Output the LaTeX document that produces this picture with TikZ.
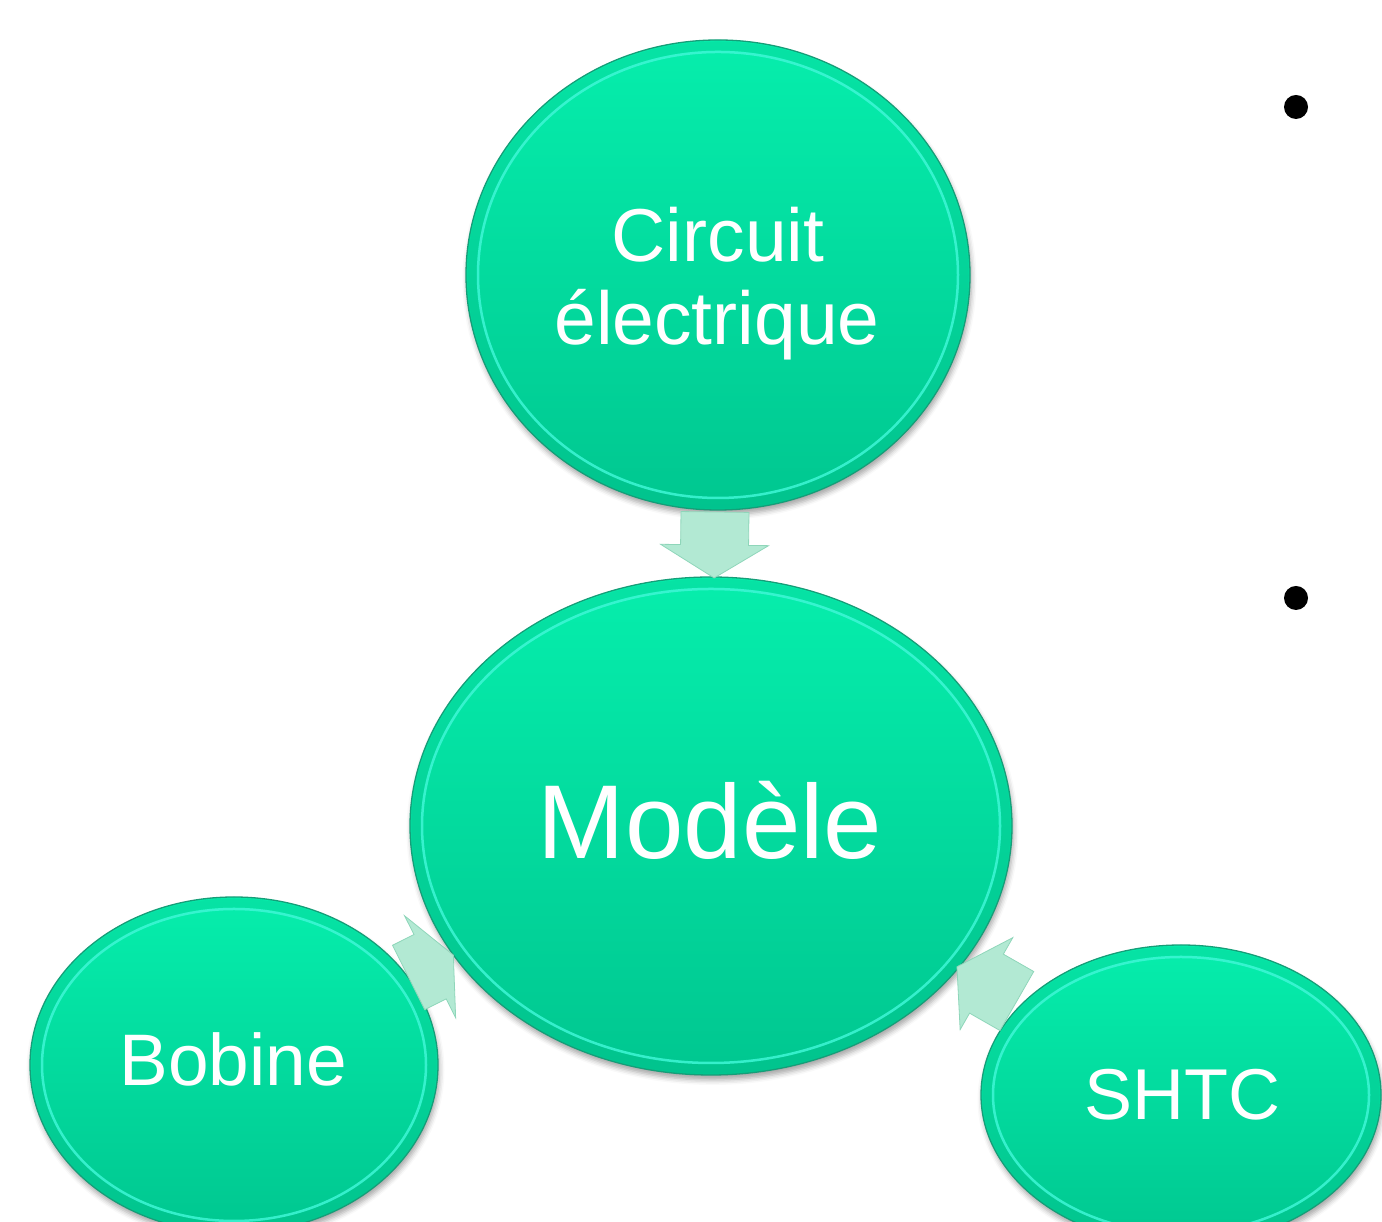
\documentclass[tikz,border=0pt]{standalone}
\usepackage{fontspec}
\setmainfont{Liberation Sans}
\usetikzlibrary{shapes.geometric,calc,shadows.blur}

\definecolor{bubbletop}{HTML}{06EEAC}
\definecolor{bubblebot}{HTML}{00C790}
\definecolor{bubbleedge}{HTML}{159E78}
\definecolor{bubblerim}{HTML}{3FF6D6}
\definecolor{bubbleband}{HTML}{0AB585}
\definecolor{flowfill}{HTML}{B2E9D3}
\definecolor{flowedge}{HTML}{8FD6BA}

\begin{document}
\begin{tikzpicture}[x=1pt,y=1pt,
  bubble/.style={ellipse, inner sep=0pt, draw=bubbleedge, line width=1.3pt,
    top color=bubbletop, bottom color=bubblebot,
    blur shadow={shadow xshift=1.5pt, shadow yshift=-5pt, shadow blur radius=5pt, shadow opacity=35}},
  bandline/.style={draw=bubbleband, line width=9pt, opacity=0.18},
  rimline/.style={draw=bubblerim, line width=2.5pt, opacity=0.85},
  bubbletext/.style={text=white, anchor=base, inner sep=0pt},
  flowarrow/.style={fill=flowfill, draw=flowedge, line width=0.8pt, line join=miter},
  % block arrow pointing along +x: length, head length, shaft half width, head half width
  pics/flow/.style n args={4}{code={
    \draw[flowarrow] ({-#1/2},{-#3}) -- ({#1/2-#2},{-#3}) -- ({#1/2-#2},{-#4})
      -- ({#1/2},0) -- ({#1/2-#2},{#4}) -- ({#1/2-#2},{#3}) -- ({-#1/2},{#3}) -- cycle;
  }}
]
\useasboundingbox (0,0) rectangle (1382,1222);
\clip (0,0) rectangle (1382,1222);

% bubbles
\node[bubble, minimum width=504, minimum height=470] (circ) at (718,947) {};
\node[bubble, minimum width=602, minimum height=498] (mod) at (711,396) {};
\node[bubble, minimum width=408, minimum height=336] (bob) at (234,157) {};
\node[bubble, minimum width=400, minimum height=300] (shtc) at (1181,127) {};

% bevel: darker outer band, then a bright line inside the rim
\draw[bandline] (circ.center) ellipse [x radius=246, y radius=229];
\draw[bandline] (mod.center) ellipse [x radius=295, y radius=243];
\draw[bandline] (bob.center) ellipse [x radius=198, y radius=162];
\draw[bandline] (shtc.center) ellipse [x radius=194, y radius=144];
\draw[rimline] (circ.center) ellipse [x radius=240, y radius=223];
\draw[rimline] (mod.center) ellipse [x radius=289, y radius=237];
\draw[rimline] (bob.center) ellipse [x radius=192, y radius=156];
\draw[rimline] (shtc.center) ellipse [x radius=188, y radius=138];

% labels
\node[bubbletext, font=\fontsize{75}{84}\selectfont] (circT1) at (718,960) {Circuit};
\node[bubbletext, font=\fontsize{75}{84}\selectfont] (circT2) at (717,877) {électrique};
\node[bubbletext, font=\fontsize{105}{110}\selectfont] (modT) at (710,363) {Modèle};
\node[bubbletext, font=\fontsize{73}{80}\selectfont] (bobT) at (233,136) {Bobine};
\node[bubbletext, font=\fontsize{72}{80}\selectfont] (shtcT) at (1182,102) {SHTC};

% block arrows feeding the model
\path let \p1=($(mod)-(circ)$), \n1={atan2(\y1,\x1)} in
  ($(circ)!0.49!(mod)$) pic[rotate=\n1] {flow={66}{33}{34}{54}};
\path let \p1=($(mod)-(bob)$), \n1={atan2(\y1,\x1)} in
  ($(bob)!0.413!(mod)$) pic[rotate=\n1] {flow={50}{26}{36}{57}};
\path let \p1=($(mod)-(shtc)$), \n1={atan2(\y1,\x1)} in
  ($(shtc)!0.413!(mod)$) pic[rotate=\n1] {flow={69}{34}{34}{53}};

% bullets
\fill (1296,1115) circle [radius=12] coordinate (b1);
\fill (1296,624) circle [radius=12] coordinate (b2);
\end{tikzpicture}
\end{document}
